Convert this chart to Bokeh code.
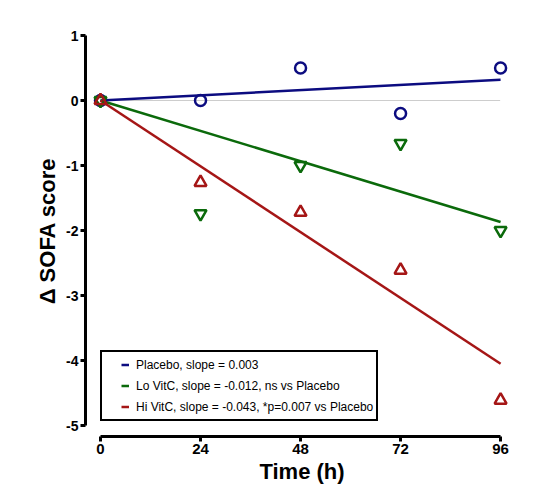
from bokeh.plotting import figure
from bokeh.models import Range1d, FixedTicker, Legend, LegendItem
from bokeh.embed import file_html
from bokeh.resources import INLINE

# ---- data ----
times = [0, 24, 48, 72, 96]
placebo = [0, 0, 0.5, -0.2, 0.5]
lo_vitc = [0, -1.74, -1.0, -0.66, -2.0]
hi_vitc = [0, -1.26, -1.72, -2.61, -4.61]

fit_x = [0, 96]
placebo_fit = [0, 0.32]
lo_fit = [0, -1.87]
hi_fit = [0, -4.05]

x_ticks = [0, 24, 48, 72, 96]
x_tick_labels = ["0", "24", "48", "72", "96"]
y_ticks = [-5, -4, -3, -2, -1, 0, 1]
y_tick_labels = ["-5", "-4", "-3", "-2", "-1", "0", "1"]

labels = [
    "Placebo, slope = 0.003",
    "Lo VitC, slope = -0.012, ns vs Placebo",
    "Hi VitC, slope = -0.043, *p=0.007 vs Placebo",
]

BLUE = "#0c0c80"
GREEN = "#0b6a0b"
RED = "#a51616"
FONT = "Liberation Sans"

p = figure(width=526, height=486, output_backend="svg", toolbar_location=None,
           x_range=Range1d(-3.6, 100.3), y_range=Range1d(-5.169, 1.154),
           min_border_left=85, min_border_top=25, min_border_right=8, min_border_bottom=50)
p.grid.visible = False
p.outline_line_color = None
p.background_fill_color = "white"

# zero reference line
p.line(x=[times[0], times[-1]], y=[0, 0], line_color="#9a9a9a", line_width=1, line_dash="1 1")

# regression lines
p.line(x=fit_x, y=placebo_fit, line_color=BLUE, line_width=2.5)
p.line(x=fit_x, y=lo_fit, line_color=GREEN, line_width=2.5)
p.line(x=fit_x, y=hi_fit, line_color=RED, line_width=2.5)

# data markers
p.scatter(x=times, y=placebo, marker="circle", size=11, line_color=BLUE, line_width=2.5, fill_alpha=0)
p.scatter(x=times, y=lo_vitc, marker="inverted_triangle", size=12, line_color=GREEN, line_width=2.5, fill_alpha=0)
p.scatter(x=times, y=hi_vitc, marker="triangle", size=12, line_color=RED, line_width=2.5, fill_alpha=0)

# legend keys (invisible-in-plot renderers, short dash drawn in the legend only)
nan = float("nan")
dummies = []
for c in (BLUE, GREEN, RED):
    dummies.append(p.line(x=[nan], y=[nan], line_color=c, line_width=2.5, line_dash="0 16 8 60"))

legend = Legend(items=[LegendItem(label=l, renderers=[r]) for l, r in zip(labels, dummies)],
                location=(15, 15), margin=0, padding=3, spacing=2,
                glyph_width=24, glyph_height=19, label_height=19, label_standoff=7,
                label_text_font=FONT, label_text_font_size="12px", label_text_color="black",
                border_line_color="black", border_line_width=2, border_line_alpha=1,
                background_fill_color="white", background_fill_alpha=1)
p.add_layout(legend, "center")

# axes
for ax in (p.xaxis[0], p.yaxis[0]):
    ax.axis_line_width = 3
    ax.axis_line_color = "black"
    ax.major_tick_line_width = 3
    ax.major_tick_line_color = "black"
    ax.major_tick_out = 5
    ax.major_tick_in = 0
    ax.minor_tick_line_color = None
    ax.major_label_text_font = FONT
    ax.major_label_text_font_style = "bold"
    ax.major_label_text_color = "black"
    ax.axis_label_text_font = FONT
    ax.axis_label_text_font_style = "bold"
    ax.axis_label_text_color = "black"
    ax.axis_label_text_font_size = "22px"

p.xaxis[0].bounds = (x_ticks[0], x_ticks[-1])
p.xaxis[0].ticker = FixedTicker(ticks=x_ticks)
p.xaxis[0].major_label_overrides = dict(zip(x_ticks, x_tick_labels))
p.xaxis[0].major_label_text_font_size = "15px"
p.xaxis[0].major_label_standoff = 2
p.xaxis[0].axis_label = "Time (h)"
p.xaxis[0].axis_label_standoff = 2

p.yaxis[0].bounds = (y_ticks[0], y_ticks[-1])
p.yaxis[0].ticker = FixedTicker(ticks=y_ticks)
p.yaxis[0].major_label_overrides = dict(zip(y_ticks, y_tick_labels))
p.yaxis[0].major_label_text_font_size = "14px"
p.yaxis[0].major_label_standoff = 2
p.yaxis[0].axis_label = "\u0394 SOFA score"
p.yaxis[0].axis_label_standoff = 3

open("out.html", "w").write(file_html(p, INLINE))
